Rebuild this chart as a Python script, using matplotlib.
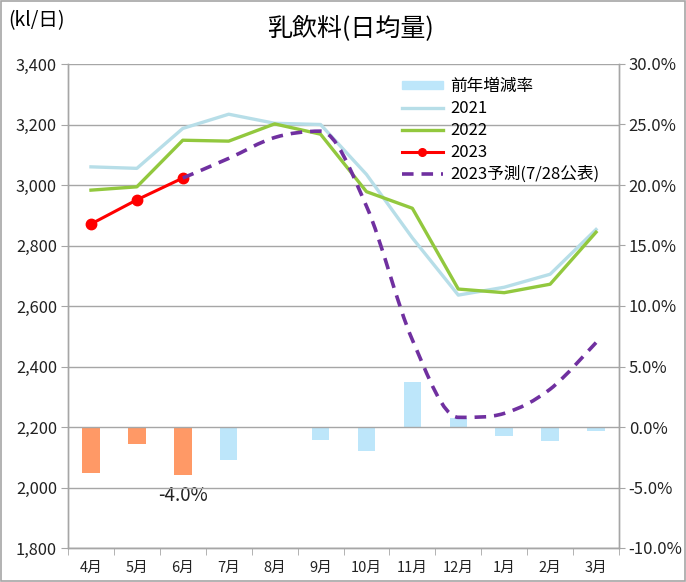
import matplotlib
matplotlib.use('Agg')
import numpy as np
import matplotlib.pyplot as plt
from matplotlib.path import Path
from matplotlib.patches import PathPatch, Rectangle
from matplotlib.lines import Line2D
from matplotlib.ticker import FuncFormatter, MultipleLocator

plt.rcParams['font.family'] = ['Noto Sans CJK JP', 'DejaVu Sans']

# chart data
months = ['4月', '5月', '6月', '7月', '8月', '9月', '10月', '11月', '12月', '1月', '2月', '3月']
y2021 = [3060, 3055, 3187, 3234, 3204, 3200, 3035, 2825, 2636, 2662, 2705, 2853]
y2022 = [2983, 2994, 3148, 3145, 3202, 3168, 2978, 2923, 2656, 2644, 2672, 2844]
y2023 = [2871, 2951, 3023]
forecast = [np.nan, np.nan, 3023, 3088, 3157, 3178, 2930, 2488, 2232, 2245, 2325, 2479]
yoy_rate = [-3.8, -1.4, -4.0, -2.75, -0.1, -1.05, -1.95, 3.7, 0.75, -0.75, -1.15, -0.35]
actual_months = 3  # bars for months with 2023 actuals are orange

x = np.arange(len(months))

fig = plt.figure(figsize=(6.86, 5.82), dpi=100)
ax1 = fig.add_axes([68/686, 1-548/582, (619-68)/686, (548-64)/582])
ax2 = ax1.twinx()

# bars on the percent axis, kept behind the lines
ax1.set_zorder(ax2.get_zorder() + 1)
ax1.patch.set_visible(False)
bar_colors = ['#FF9966' if i < actual_months else '#BDE6FA' for i in range(len(months))]
ax2.bar(x, yoy_rate, width=0.38, color=bar_colors)

ax1.plot(x, y2021, color='#B7DEE8', lw=2.4)
ax1.plot(x, y2022, color='#92C83E', lw=2.4)
ax1.plot(x[:len(y2023)], y2023, color='#FF0000', lw=2.2, marker='o', markersize=7.5)

# smoothed forecast line (bezier through the points, flat at peaks/dips)
fx = x[2:].astype(float)
fy = np.array(forecast[2:], dtype=float)
pts = np.column_stack([fx, fy])
n = len(pts)
tang = []
for i in range(n):
    a = pts[max(i - 1, 0)]
    b = pts[min(i + 1, n - 1)]
    t = (b - a) / 2
    if 0 < i < n - 1 and (pts[i, 1] - a[1]) * (b[1] - pts[i, 1]) <= 0:
        t[1] = 0
    tang.append(t)
verts = [pts[0]]
codes = [Path.MOVETO]
for i in range(n - 1):
    verts += [pts[i] + tang[i] / 3, pts[i + 1] - tang[i + 1] / 3, pts[i + 1]]
    codes += [Path.CURVE4] * 3
ax1.add_patch(PathPatch(Path(verts, codes), fill=False, edgecolor='#7030A0',
                        lw=2.6, linestyle=(0, (3.2, 2.2)), zorder=3))

# axes
ax1.set_xlim(-0.5, 11.5)
ax1.set_ylim(1800, 3400)
ax2.set_ylim(-10, 30)
ax1.yaxis.set_major_locator(MultipleLocator(200))
ax2.yaxis.set_major_locator(MultipleLocator(5))
ax1.yaxis.set_major_formatter(FuncFormatter(lambda v, p: f'{v:,.0f}'))
ax2.yaxis.set_major_formatter(FuncFormatter(lambda v, p: f'{v:.1f}%'))
ax1.set_xticks(x)
ax1.set_xticklabels(months)
ax1.set_xticks(np.arange(-0.5, 12, 1), minor=True)
ax1.tick_params(axis='x', which='major', length=0, pad=9, labelsize=10.5, colors='#222222')
ax1.tick_params(axis='x', which='minor', length=5, color='#A6A6A6')
ax1.tick_params(axis='y', length=5, color='#A6A6A6', labelsize=11.8, labelcolor='#222222', pad=3)
ax2.tick_params(axis='y', length=4, color='#A6A6A6', labelsize=12, labelcolor='#222222', pad=3)

ax1.grid(axis='y', color='#A6A6A6', lw=1)
ax1.set_axisbelow(True)
for a in (ax1, ax2):
    a.spines['top'].set_visible(False)
    for s in ('left', 'right', 'bottom'):
        a.spines[s].set_color('#A6A6A6')
        a.spines[s].set_linewidth(1)

ax2.annotate('-4.0%', xy=(2, yoy_rate[2]), xytext=(0, -7), textcoords='offset points',
             ha='center', va='top', fontsize=13.5, color='#222222')

# legend
handles = [Rectangle((0, 0), 1, 1, color='#BDE6FA'),
           Line2D([], [], color='#B7DEE8', lw=2.4),
           Line2D([], [], color='#92C83E', lw=2.4),
           Line2D([], [], color='#FF0000', lw=2.2, marker='o', markersize=5.5),
           Line2D([], [], color='#7030A0', lw=2.6, linestyle=(0, (3.2, 2.2)))]
labels = ['前年増減率', '2021', '2022', '2023', '2023予測(7/28公表)']
leg = ax1.legend(handles, labels, loc='upper right', bbox_to_anchor=(0.982, 0.992),
                 frameon=False, fontsize=12, handlelength=2.5, handleheight=0.35,
                 handletextpad=0.4, labelspacing=0.3, borderaxespad=0.2)

fig.text(350/686, 1-29/582, '乳飲料(日均量)', ha='center', va='center', fontsize=18)
fig.text(8/686, 1-21/582, '(kl/日)', ha='left', va='center', fontsize=14)

fig.patches.append(Rectangle((0.002, 0.002), 0.996, 0.996, transform=fig.transFigure,
                             fill=False, edgecolor='#A6A6A6', lw=1.2))

fig.savefig('out.png', dpi=100)
